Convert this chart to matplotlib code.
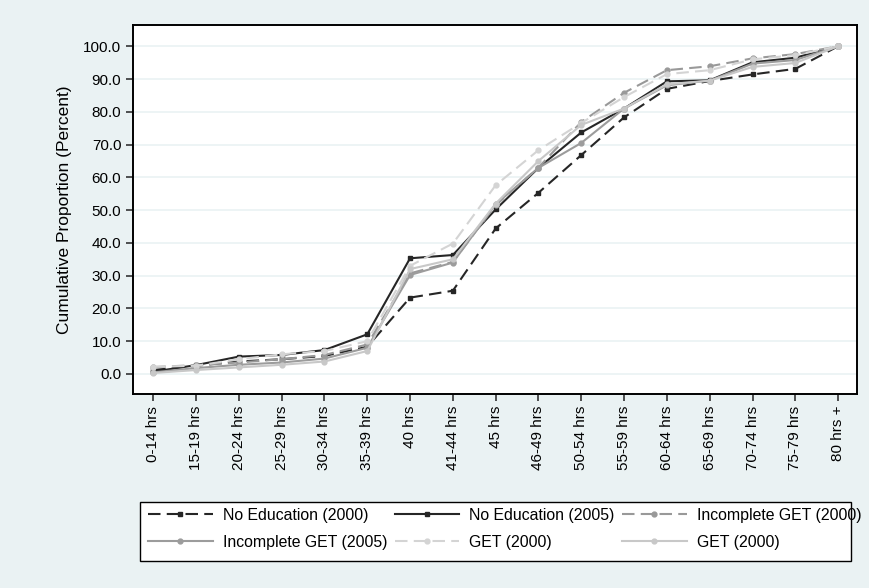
import matplotlib.pyplot as plt
from matplotlib.patches import Rectangle
import numpy as np

plt.rcParams['font.family'] = ['Liberation Sans', 'DejaVu Sans']

categories = ['0-14 hrs', '15-19 hrs', '20-24 hrs', '25-29 hrs', '30-34 hrs', '35-39 hrs',
              '40 hrs', '41-44 hrs', '45 hrs', '46-49 hrs', '50-54 hrs', '55-59 hrs',
              '60-64 hrs', '65-69 hrs', '70-74 hrs', '75-79 hrs', '80 hrs +']

no_edu_2000 = [1.2, 2.5, 3.8, 4.5, 5.5, 8.3, 23.3, 25.4, 44.4, 55.3, 66.8, 78.3, 87.0, 89.4, 91.4, 93.1, 100.0]
no_edu_2005 = [0.7, 2.7, 5.3, 5.8, 7.3, 12.1, 35.3, 36.3, 50.2, 62.9, 73.7, 81.0, 89.3, 89.6, 95.1, 96.5, 100.0]
inc_get_2000 = [2.1, 2.7, 3.5, 4.5, 5.8, 9.0, 30.7, 34.2, 51.5, 63.0, 76.9, 85.8, 92.7, 93.9, 96.3, 97.6, 100.0]
inc_get_2005 = [0.5, 1.8, 2.8, 3.5, 4.7, 8.0, 30.2, 34.0, 51.8, 62.9, 70.5, 81.0, 88.1, 89.5, 94.7, 95.8, 100.0]
get_2000a = [2.2, 2.5, 4.5, 6.0, 7.0, 10.0, 33.0, 39.8, 57.6, 68.3, 76.6, 84.5, 91.5, 92.7, 96.0, 97.3, 100.0]
get_2000b = [0.3, 1.2, 2.0, 2.8, 3.8, 7.0, 32.0, 35.0, 52.0, 65.0, 76.0, 81.0, 88.4, 89.5, 93.7, 94.9, 100.0]

bg = '#eaf2f3'
fig = plt.figure(figsize=(8.7, 5.88), dpi=100, facecolor=bg)
ax = fig.add_axes([0.153, 0.330, 0.832, 0.627])
ax.set_facecolor('white')

x = np.arange(len(categories))
series = [
    (no_edu_2000, 'No Education (2000)', '#262626', (0, (6, 3)), 's'),
    (no_edu_2005, 'No Education (2005)', '#262626', '-', 's'),
    (inc_get_2000, 'Incomplete GET (2000)', '#999999', (0, (6, 3)), 'o'),
    (inc_get_2005, 'Incomplete GET (2005)', '#9c9c9c', '-', 'o'),
    (get_2000a, 'GET (2000)', '#d4d4d4', (0, (6, 3)), 'o'),
    (get_2000b, 'GET (2000)', '#c8c8c8', '-', 'o'),
]
lines = []
for vals, lab, col, ls, mk in series:
    ln, = ax.plot(x, vals, color=col, linestyle=ls, linewidth=1.5, marker=mk,
                  markersize=3.5, label=lab)
    lines.append(ln)

ax.set_xlim(-0.47, 16.44)
ax.set_ylim(-6.1, 106.4)
ax.set_yticks(np.arange(0, 101, 10))
ax.set_yticklabels(['%.1f' % v for v in np.arange(0, 101, 10)], fontsize=11)
ax.set_xticks(x)
ax.set_xticklabels(categories, rotation=90, fontsize=11)
ax.grid(axis='y', color=bg, linewidth=1.2)
ax.set_axisbelow(True)
ax.tick_params(direction='out', length=5, width=1.2, color='#333333')
ax.set_ylabel('Cumulative Proportion (Percent)', fontsize=12.5, labelpad=8)
for sp in ax.spines.values():
    sp.set_color('black')
    sp.set_linewidth(1.4)

# legend box drawn separately, the text runs slightly past it on the right like the original
fig.patches.append(Rectangle((140 / 870, 1 - 561 / 588), 711 / 870, 59 / 588,
                             transform=fig.transFigure, facecolor='white',
                             edgecolor='black', linewidth=1.0, zorder=0))
order = [0, 3, 1, 4, 2, 5]
leg = fig.legend([lines[i] for i in order], [lines[i].get_label() for i in order],
                 loc='upper left', bbox_to_anchor=(148 / 870, 1 - 508 / 588),
                 ncol=3, fontsize=11.4, frameon=False, handlelength=4.1,
                 handletextpad=0.63, borderpad=0, labelspacing=0.75,
                 columnspacing=0.45, borderaxespad=0)

fig.savefig('out.png', dpi=100, facecolor=bg)
